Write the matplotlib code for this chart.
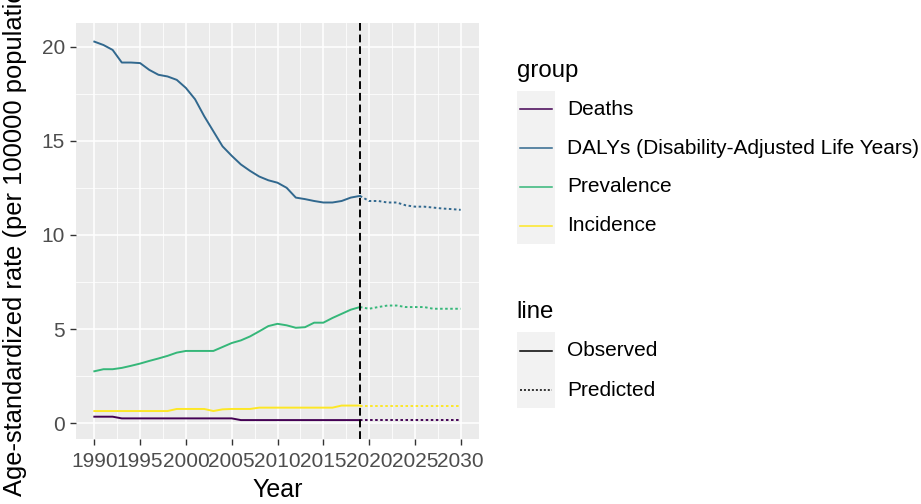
import numpy as np
import matplotlib
matplotlib.use("Agg")
import matplotlib.pyplot as plt
from matplotlib.lines import Line2D
from matplotlib.patches import Rectangle

plt.rcParams["font.family"] = ["Liberation Sans", "DejaVu Sans"]

# ---- data -------------------------------------------------------------
years_obs = list(range(1990, 2020))
years_pred = list(range(2019, 2031))

groups = ["Deaths", "DALYs (Disability-Adjusted Life Years)", "Prevalence", "Incidence"]
colors = ["#440154", "#31688E", "#35B779", "#FDE725"]

deaths_obs = [0.35, 0.35, 0.35, 0.26, 0.26, 0.26, 0.26, 0.26, 0.26, 0.26,
              0.26, 0.26, 0.26, 0.26, 0.26, 0.26, 0.17, 0.17, 0.17, 0.17,
              0.17, 0.17, 0.17, 0.17, 0.17, 0.17, 0.17, 0.17, 0.17, 0.17]
dalys_obs = [20.26, 20.08, 19.82, 19.15, 19.15, 19.12, 18.76, 18.50, 18.41, 18.23,
             17.80, 17.20, 16.30, 15.50, 14.70, 14.20, 13.74, 13.40, 13.10, 12.90,
             12.77, 12.50, 11.98, 11.90, 11.80, 11.72, 11.72, 11.80, 11.98, 12.07]
prev_obs = [2.76, 2.87, 2.87, 2.94, 3.05, 3.17, 3.31, 3.44, 3.58, 3.75,
            3.84, 3.84, 3.84, 3.84, 4.05, 4.26, 4.40, 4.61, 4.88, 5.16,
            5.28, 5.20, 5.07, 5.10, 5.34, 5.34, 5.59, 5.81, 6.03, 6.17]
inc_obs = [0.65, 0.65, 0.65, 0.65, 0.65, 0.65, 0.65, 0.65, 0.65, 0.76,
           0.76, 0.76, 0.76, 0.65, 0.74, 0.76, 0.76, 0.76, 0.83, 0.83,
           0.83, 0.83, 0.83, 0.83, 0.83, 0.83, 0.83, 0.94, 0.94, 0.94]

deaths_pred = [0.17] * 12
dalys_pred = [12.07, 11.80, 11.80, 11.72, 11.72, 11.57, 11.50, 11.50, 11.45, 11.40, 11.37, 11.33]
prev_pred = [6.17, 6.08, 6.17, 6.25, 6.25, 6.17, 6.17, 6.17, 6.08, 6.08, 6.08, 6.08]
inc_pred = [0.94] * 12

observed = [deaths_obs, dalys_obs, prev_obs, inc_obs]
predicted = [deaths_pred, dalys_pred, prev_pred, inc_pred]

cutoff_year = 2019
x_ticks = [1990, 1995, 2000, 2005, 2010, 2015, 2020, 2025, 2030]
y_ticks = [0, 5, 10, 15, 20]

# ---- figure -----------------------------------------------------------
W, H = 921, 504
fig = plt.figure(figsize=(W / 100, H / 100), dpi=100)
ax = fig.add_axes([76 / W, 1 - 439 / H, (479 - 76) / W, (439 - 22.7) / H])
ax.set_facecolor("#EBEBEB")
for s in ax.spines.values():
    s.set_visible(False)

lw = 1.4
for obs, pred, c in zip(observed, predicted, colors):
    ax.plot(years_obs, obs, color=c, lw=lw, solid_joinstyle="round", zorder=3)
    ax.plot(years_pred, pred, color=c, lw=lw, linestyle=(0, (1.3, 1.3)), zorder=3)

ax.axvline(cutoff_year, color="black", lw=1.4, linestyle=(0, (4, 2)), zorder=4)

all_vals = sum(observed + predicted, [])
ymin, ymax = min(all_vals), max(all_vals)
pad = (ymax - ymin) * 0.05
ax.set_ylim(ymin - pad, ymax + pad)
ax.set_xlim(1990 - 2, 2030 + 2)

ax.set_xticks(x_ticks)
ax.set_xticks([t + 2.5 for t in x_ticks[:-1]], minor=True)
ax.set_yticks(y_ticks)
ax.set_yticks([2.5, 7.5, 12.5, 17.5], minor=True)
ax.grid(which="major", color="white", lw=1.1, zorder=0)
ax.grid(which="minor", color="white", lw=0.55, zorder=0)
ax.set_axisbelow(True)
ax.tick_params(which="major", length=4, width=1.0, color="#333333",
               labelcolor="#4D4D4D", labelsize=15, pad=4)
ax.tick_params(axis="x", which="major", pad=5.5)
ax.tick_params(which="minor", length=0)

fig.text(278 / W, 1 - 490 / H, "Year", ha="center", va="center",
         fontsize=18, color="black")
fig.text(15 / W, 1 - 231 / H, "Age-standardized rate (per 100000 population)",
         rotation=90, ha="center", va="center", fontsize=18.4, color="black")

# ---- legends ----------------------------------------------------------
def fx(px):
    return px / W

def fy(py):
    return 1 - py / H

key_bg = "#F2F2F2"
text_x = 567
key_x0, key_x1 = 516.7, 555
line_x0, line_x1 = 519.5, 551.5

fig.text(fx(516.7), fy(77), "group", fontsize=17.3, va="baseline", ha="left")
fig.patches.append(Rectangle((fx(key_x0), fy(244)), fx(key_x1) - fx(key_x0),
                             fy(90.7) - fy(244), transform=fig.transFigure,
                             facecolor=key_bg, edgecolor="none"))
group_y = [109.3, 148.3, 186.7, 225.7]
for g, c, yy in zip(groups, colors, group_y):
    fig.lines.append(Line2D([fx(line_x0), fx(line_x1)], [fy(yy), fy(yy)],
                            transform=fig.transFigure, color=c, lw=1.1))
    fig.text(fx(text_x), fy(yy), g, fontsize=15, va="center", ha="left",
             color="black")

fig.text(fx(516.7), fy(318.3), "line", fontsize=17.3, va="baseline", ha="left")
fig.patches.append(Rectangle((fx(key_x0), fy(408.3)), fx(key_x1) - fx(key_x0),
                             fy(331.7) - fy(408.3), transform=fig.transFigure,
                             facecolor=key_bg, edgecolor="none"))
for lbl, ls, yy in [("Observed", "-", 351), ("Predicted", (0, (1.3, 1.3)), 390)]:
    fig.lines.append(Line2D([fx(line_x0), fx(line_x1)], [fy(yy), fy(yy)],
                            transform=fig.transFigure, color="black", lw=1.1,
                            linestyle=ls))
    fig.text(fx(text_x), fy(yy), lbl, fontsize=15, va="center", ha="left",
             color="black")

fig.savefig("out.png", dpi=100)
